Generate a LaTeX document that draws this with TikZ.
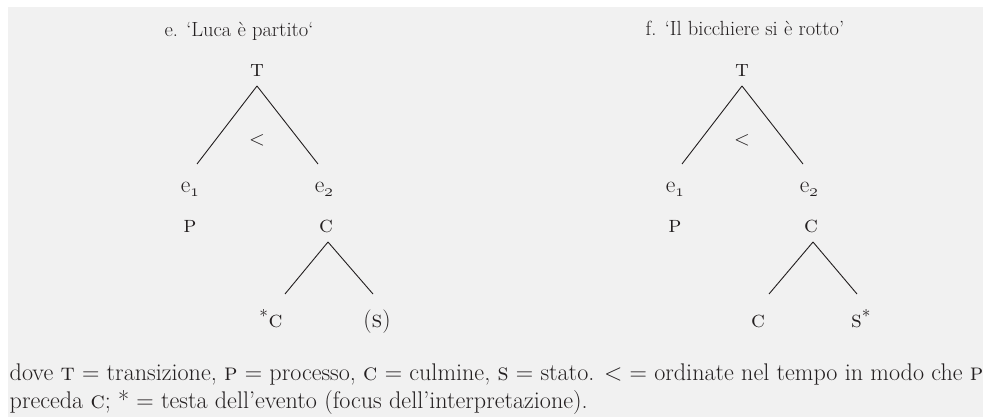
\documentclass[tikz,border=0pt]{standalone}
\usepackage{tikz}
\usetikzlibrary{positioning, calc}
\definecolor{panelGray}{RGB}{241, 241, 241}
\definecolor{inkBlack}{RGB}{35, 31, 32}

\begin{document}
\begin{tikzpicture}[
    x=1pt, y=-1pt,
    title/.style={inner sep=0pt, anchor=base, font=\fontsize{20.5}{26}\selectfont, text=inkBlack},
    lbl/.style={inner sep=0pt, anchor=base, font=\fontsize{23.5}{28}\selectfont, text=inkBlack},
    rel/.style={inner sep=0pt, anchor=center, font=\fontsize{22}{28}\selectfont, text=inkBlack},
    note/.style={inner sep=0pt, anchor=base west, align=left, font=\fontsize{24.1}{28}\selectfont, text=inkBlack},
    branch/.style={draw=inkBlack, line width=0.9pt}
]

\useasboundingbox (0,0) rectangle (983,417);
\fill[panelGray] (7.5,7.5) rectangle (983,417);

% Tree e
\begin{scope}[xshift=257pt]
\node[title] (eTitle) at (-18,37) {e. ‘Luca è partito‘};
\node[lbl] (eT) at (0,77) {\textsc{t}};
\node[rel] (eOrd) at (0,140) {$<$};
\node[lbl] (eE1) at (-67,193) {e$_{\mathnormal{1}}$};
\node[lbl] (eE2) at (67,193) {e$_{\mathnormal{2}}$};
\node[lbl] (eP) at (-67,233) {\textsc{p}};
\node[lbl] (eC) at (69,233) {\textsc{c}};
\node[lbl] (eCc) at (14,327) {$^*$\textsc{c}};
\node[lbl] (eS) at (120,327) {(\textsc{s})};

\draw[branch] ([yshift=-9pt]eT.base) -- ([xshift=7pt,yshift=29pt]eE1.base);
\draw[branch] ([yshift=-9pt]eT.base) -- ([xshift=-6pt,yshift=29pt]eE2.base);
\draw[branch] ([xshift=2pt,yshift=-9pt]eC.base) -- ([xshift=14pt,yshift=33pt]eCc.base);
\draw[branch] ([xshift=2pt,yshift=-9pt]eC.base) -- ([xshift=-4pt,yshift=33pt]eS.base);
\end{scope}

% Tree f
\begin{scope}[xshift=742pt]
\node[title] (fTitle) at (3,36) {f. ‘Il bicchiere si è rotto’};
\node[lbl] (fT) at (0,77) {\textsc{t}};
\node[rel] (fOrd) at (0,140) {$<$};
\node[lbl] (fE1) at (-67,193) {e$_{\mathnormal{1}}$};
\node[lbl] (fE2) at (67,193) {e$_{\mathnormal{2}}$};
\node[lbl] (fP) at (-67,233) {\textsc{p}};
\node[lbl] (fC) at (69,233) {\textsc{c}};
\node[lbl] (fCc) at (16,327) {\textsc{c}};
\node[lbl] (fS) at (119,327) {\textsc{s}$^*$};

\draw[branch] ([yshift=-9pt]fT.base) -- ([xshift=7pt,yshift=29pt]fE1.base);
\draw[branch] ([yshift=-9pt]fT.base) -- ([xshift=-6pt,yshift=29pt]fE2.base);
\draw[branch] ([xshift=2pt,yshift=-9pt]fC.base) -- ([xshift=11pt,yshift=33pt]fCc.base);
\draw[branch] ([xshift=2pt,yshift=-9pt]fC.base) -- ([xshift=-4pt,yshift=33pt]fS.base);
\end{scope}

% Legend
\node[note] (legend) at (9.5,408) {dove \textsc{t} = transizione, \textsc{p} = processo, \textsc{c} = culmine, \textsc{s} = stato. \textless{} = ordinate nel tempo in modo che \textsc{p}\\preceda \textsc{c}; * = testa dell’evento (focus dell’interpretazione).};

\end{tikzpicture}
\end{document}
